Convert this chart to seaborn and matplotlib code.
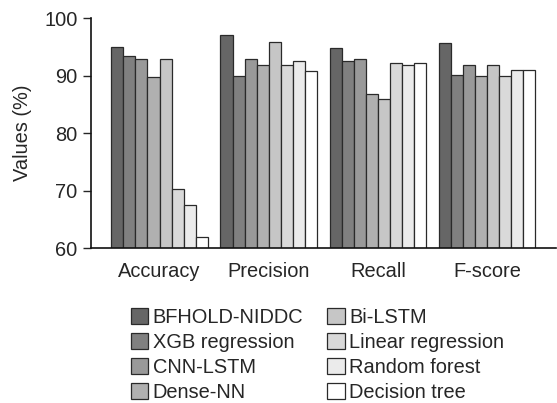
'''
Grouped bar chart of performance metrics per model
'''
import matplotlib
matplotlib.use('Agg')
import matplotlib.pyplot as plt
import pandas as pd
import seaborn as sns

metrics = ['Accuracy', 'Precision', 'Recall', 'F-score']
models = ['BFHOLD-NIDDC', 'XGB regression', 'CNN-LSTM', 'Dense-NN',
          'Bi-LSTM', 'Linear regression', 'Random forest', 'Decision tree']

# values per model, in metric order
bfhold = [95.0, 97.1, 94.7, 95.6]
xgb = [93.4, 90.0, 92.5, 90.1]
cnn_lstm = [92.8, 92.8, 92.8, 91.8]
dense_nn = [89.8, 91.8, 86.7, 89.9]
bi_lstm = [92.8, 95.8, 85.9, 91.8]
linear = [70.2, 91.8, 92.2, 89.9]
random_forest = [67.4, 92.6, 91.8, 90.9]
decision_tree = [62.0, 90.7, 92.2, 90.9]

colors = ['#666666', '#808080', '#999999', '#b0b0b0',
          '#c6c6c6', '#d9d9d9', '#ebebeb', '#ffffff']

series = [bfhold, xgb, cnn_lstm, dense_nn, bi_lstm, linear, random_forest, decision_tree]
rows = []
for m, vals in zip(models, series):
    for met, v in zip(metrics, vals):
        rows.append({'metric': met, 'model': m, 'value': v})
df = pd.DataFrame(rows)

sns.set_style('white')
plt.rcParams['font.family'] = ['Liberation Sans', 'DejaVu Sans']
fs = 14.4

fig = plt.figure(figsize=(5.57, 4.03), dpi=100)
ax = fig.add_axes([0.163, 0.3846, 0.835, 0.5707])

sns.barplot(data=df, x='metric', y='value', hue='model', order=metrics,
            hue_order=models, palette=colors, width=0.885, gap=0,
            edgecolor='#2a2a2a', linewidth=0.9, ax=ax)

ax.set_ylim(60, 100)
ax.set_xlim(-0.63, 3.63)
ax.set_yticks([60, 70, 80, 90, 100])
ax.set_xlabel('')
ax.set_ylabel('Values (%)', fontsize=fs, labelpad=9)
ax.tick_params(axis='y', length=6, width=1, labelsize=fs, direction='out', left=True)
ax.tick_params(axis='x', length=0, labelsize=fs, pad=10)
for s in ['top', 'right']:
    ax.spines[s].set_visible(False)
for s in ['left', 'bottom']:
    ax.spines[s].set_color('#111111')
    ax.spines[s].set_linewidth(1.2)

ax.get_legend().remove()
handles, labels = ax.get_legend_handles_labels()
fig.legend(handles, labels, loc='upper left', bbox_to_anchor=(0.235, 0.236),
           ncol=2, frameon=False, fontsize=fs, handlelength=0.87, handleheight=0.87,
           handletextpad=0.22, columnspacing=1.2, labelspacing=0.3,
           borderpad=0, borderaxespad=0)

plt.savefig('out.png', dpi=100)
